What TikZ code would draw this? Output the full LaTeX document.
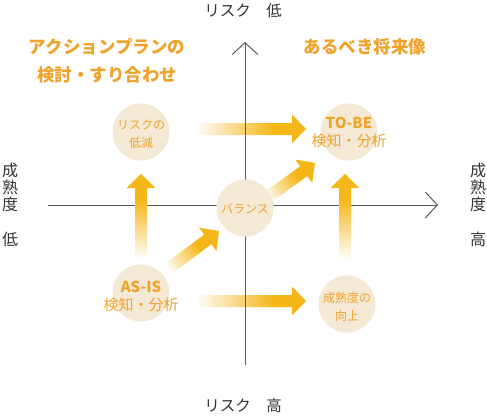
\documentclass[tikz,border=0pt]{standalone}
\usepackage{fontspec}
\setmainfont{Noto Sans CJK JP}
\usetikzlibrary{arrows.meta,calc}
\definecolor{arrc}{HTML}{F5B618}
\definecolor{circc}{HTML}{F4E9D4}
\definecolor{orangetxt}{HTML}{EFA22C}
\definecolor{axisc}{HTML}{5A5A5A}
\definecolor{labelc}{HTML}{333333}
\pgfdeclarehorizontalshading{arrfade}{100bp}{color(0bp)=(white); color(24bp)=(white); color(60bp)=(arrc); color(100bp)=(arrc)}
\pgfdeclareverticalshading{arrfadev}{100bp}{color(0bp)=(white); color(24bp)=(white); color(60bp)=(arrc); color(100bp)=(arrc)}
\newcommand{\fadearrow}[4]{%
  \shade[shading=#4, shading angle=#3]
    ($(#1)!6pt!-90:(#2)$) --
    ($($(#2)!14pt!(#1)$)!6pt!-90:(#2)$) --
    ($($(#2)!14pt!(#1)$)!14.5pt!-90:(#2)$) --
    (#2) --
    ($($(#2)!14pt!(#1)$)!14.5pt!90:(#2)$) --
    ($($(#2)!14pt!(#1)$)!6pt!90:(#2)$) --
    ($(#1)!6pt!90:(#2)$) -- cycle;}
\tikzset{
  circ/.style={circle, fill=circc, minimum size=57pt, inner sep=0pt},
  ctext/.style={text=orangetxt, align=center, font=\fontsize{12}{18}\selectfont, inner sep=0pt},
  cbig/.style={text=orangetxt, align=center, font=\fontsize{15}{18}\selectfont, inner sep=0pt},
  head/.style={text=orangetxt, align=center, font=\fontsize{17.5}{28}\selectfont\bfseries, inner sep=0pt},
  axlabel/.style={text=labelc, font=\fontsize{15.5}{18}\selectfont, inner sep=0pt},
  sidelabel/.style={text=labelc, align=center, font=\fontsize{16}{17}\selectfont, inner sep=0pt},
  axis/.style={draw=axisc, line width=1pt, -{Straight Barb[length=12pt,width=26pt,line width=1pt]}},
}
\begin{document}
\begin{tikzpicture}[x=1pt,y=-1pt]
\useasboundingbox (0,0) rectangle (487,415);
% axis end points
\coordinate (hL) at (48,205);
\coordinate (hR) at (438,205);
\coordinate (vB) at (245,365);
\coordinate (vT) at (245,42);
% horizontal axis (under arrows)
\draw[axis] (hL) -- (hR);
% arrow coordinates
\coordinate (a1t) at (197,129); \coordinate (a1h) at (306,129);
\coordinate (a2t) at (197,301); \coordinate (a2h) at (306,301);
\coordinate (a3t) at (141,258); \coordinate (a3h) at (141,174);
\coordinate (a4t) at (345,258); \coordinate (a4h) at (345,174);
\coordinate (a5t) at (164,272); \coordinate (a5h) at (219,231);
\coordinate (a6t) at (264,200); \coordinate (a6h) at (315,163);
\fadearrow{a1t}{a1h}{0}{arrfade}
\fadearrow{a2t}{a2h}{0}{arrfade}
\fadearrow{a3t}{a3h}{0}{arrfadev}
\fadearrow{a4t}{a4h}{0}{arrfadev}
\fadearrow{a5t}{a5h}{37}{arrfade}
\fadearrow{a6t}{a6h}{36}{arrfade}
% vertical axis (over arrows)
\draw[axis] (vB) -- (vT);
% circles
\node[circ] (risk) at (141,132) {};
\node[circ] (tobe) at (349,132) {};
\node[circ] (bal) at (245,208) {};
\node[circ] (asis) at (141,293) {};
\node[circ] (mat) at (347,304) {};
% circle texts
\node[ctext] (riskt) at (141,134) {リスクの\\低減};
\node[cbig] (tobet) at (349,132) {\textbf{TO-BE}\\検知・分析};
\node[ctext] (balt) at (245,209) {バランス};
\node[cbig] (asist) at (141,296) {\textbf{AS-IS}\\検知・分析};
\node[ctext] (matt) at (347,307) {成熟度の\\向上};
% headings
\node[head] (h1) at (107,61) {アクションプランの\\検討・すり合わせ};
\node[head] (h2) at (365,47) {あるべき将来像};
% axis labels
\node[axlabel] (top) at (243,11) {リスク　低};
\node[axlabel] (bot) at (243,406) {リスク　高};
\node[sidelabel] (lm) at (10,187) {成\\熟\\度};
\node[sidelabel] (ll) at (10,239) {低};
\node[sidelabel] (rm) at (478,187) {成\\熟\\度};
\node[sidelabel] (rl) at (478,239) {高};
\end{tikzpicture}
\end{document}
